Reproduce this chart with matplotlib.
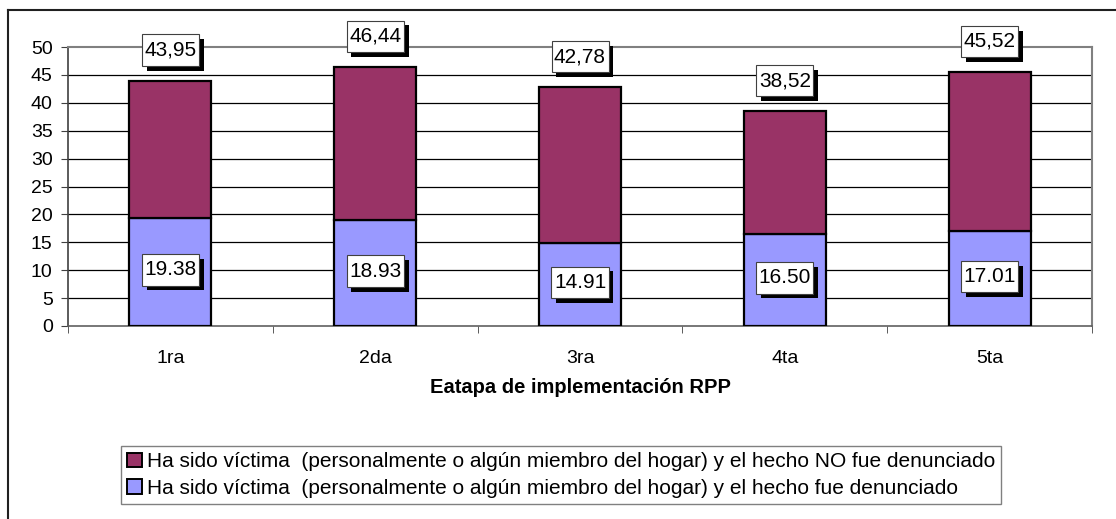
import matplotlib.pyplot as plt
import matplotlib.patheffects as pe
from matplotlib.patches import Patch
from matplotlib.lines import Line2D
from matplotlib.path import Path
import numpy as np

plt.rcParams['font.family'] = ['Liberation Sans', 'DejaVu Sans']

etapas = ['1ra', '2da', '3ra', '4ta', '5ta']
denunciado = [19.38, 18.93, 14.91, 16.50, 17.01]
total = [43.95, 46.44, 42.78, 38.52, 45.52]
no_denunciado = [t - d for t, d in zip(total, denunciado)]

lbl_no = 'Ha sido víctima  (personalmente o algún miembro del hogar) y el hecho NO fue denunciado'
lbl_si = 'Ha sido víctima  (personalmente o algún miembro del hogar) y el hecho fue denunciado'

c_no = '#993366'
c_si = '#9999FF'

fig = plt.figure(figsize=(11.16, 5.19), dpi=100)
ax = fig.add_axes([68/1116, 1-326/519, (1092-68)/1116, (326-47)/519])

x = np.arange(len(etapas))
ax.bar(x, denunciado, width=0.4, color=c_si, edgecolor='black', linewidth=1.6, zorder=3)
ax.bar(x, no_denunciado, width=0.4, bottom=denunciado, color=c_no,
       edgecolor='black', linewidth=1.6, zorder=3)

ax.set_xlim(-0.5, len(etapas) - 0.5)
ax.set_ylim(0, 50)
ax.set_yticks(range(0, 51, 5))
ax.set_xticks(x)
ax.set_xticklabels(etapas)
ax.set_xticks(np.arange(-0.5, len(etapas), 1), minor=True)
ax.tick_params(axis='x', which='major', length=0, pad=17, labelsize=14)
ax.tick_params(axis='x', which='minor', length=5, direction='out', color='#404040')
ax.tick_params(axis='y', length=5, direction='out', pad=6, labelsize=14, color='#404040')

for yv in range(5, 50, 5):
    ax.axhline(yv, color='black', linewidth=0.9, zorder=1)

for s in ['top', 'right']:
    ax.spines[s].set_color('#808080')
    ax.spines[s].set_linewidth(1.5)
ax.spines['left'].set_color('#404040')
ax.spines['bottom'].set_color('#606060')
ax.spines['left'].set_linewidth(1.2)
ax.spines['bottom'].set_linewidth(1.2)

ax.set_xlabel('Eatapa de implementación RPP', fontsize=14.5, fontweight='bold', labelpad=8)


# caja con mas relleno vertical que horizontal, como en el original
def caja(x0, y0, width, height, mutation_size):
    px = 0.12 * mutation_size
    py = 0.3 * mutation_size
    x0, y0 = x0 - px, y0 - py
    x1, y1 = x0 + width + 2 * px, y0 + height + 2 * py
    return Path([(x0, y0), (x1, y0), (x1, y1), (x0, y1), (x0, y0)],
                [Path.MOVETO, Path.LINETO, Path.LINETO, Path.LINETO, Path.CLOSEPOLY])


shadow = [pe.withSimplePatchShadow(offset=(3.5, -3.5), shadow_rgbFace='black', alpha=1.0)]

def label_box(t):
    t.set_bbox(dict(boxstyle=caja, facecolor='white', edgecolor='#404040', linewidth=0.8))
    t.get_bbox_patch().set_path_effects(shadow)

for i in range(len(etapas)):
    t = ax.annotate(f'{denunciado[i]:.2f}', (x[i], denunciado[i] / 2), ha='center', va='center',
                    fontsize=15, zorder=5, xytext=(0, 1.5), textcoords='offset points')
    label_box(t)
    t = ax.annotate(f'{total[i]:.2f}'.replace('.', ','), (x[i], total[i]), ha='center', va='center',
                    fontsize=15, zorder=5, xytext=(0, 22), textcoords='offset points',
                    annotation_clip=False)
    label_box(t)

handles = [Patch(facecolor=c_no, edgecolor='black', linewidth=1.4),
           Patch(facecolor=c_si, edgecolor='black', linewidth=1.4)]
leg = fig.legend(handles, [lbl_no, lbl_si], loc='center', bbox_to_anchor=(561/1116, 1-475/519),
                 fontsize=15, frameon=True, fancybox=False, edgecolor='#606060',
                 handlelength=0.7, handleheight=0.7, handletextpad=0.25, borderpad=0.3,
                 labelspacing=0.35, borderaxespad=0)
leg.get_frame().set_linewidth(1.0)

fig.add_artist(Line2D([7.5/1116, 7.5/1116], [0, 1-10/519], transform=fig.transFigure,
                      color='#202020', linewidth=1.5))
fig.add_artist(Line2D([7.5/1116, 1], [1-10/519, 1-10/519], transform=fig.transFigure,
                      color='#202020', linewidth=1.5))

fig.savefig('out.png', dpi=100)
